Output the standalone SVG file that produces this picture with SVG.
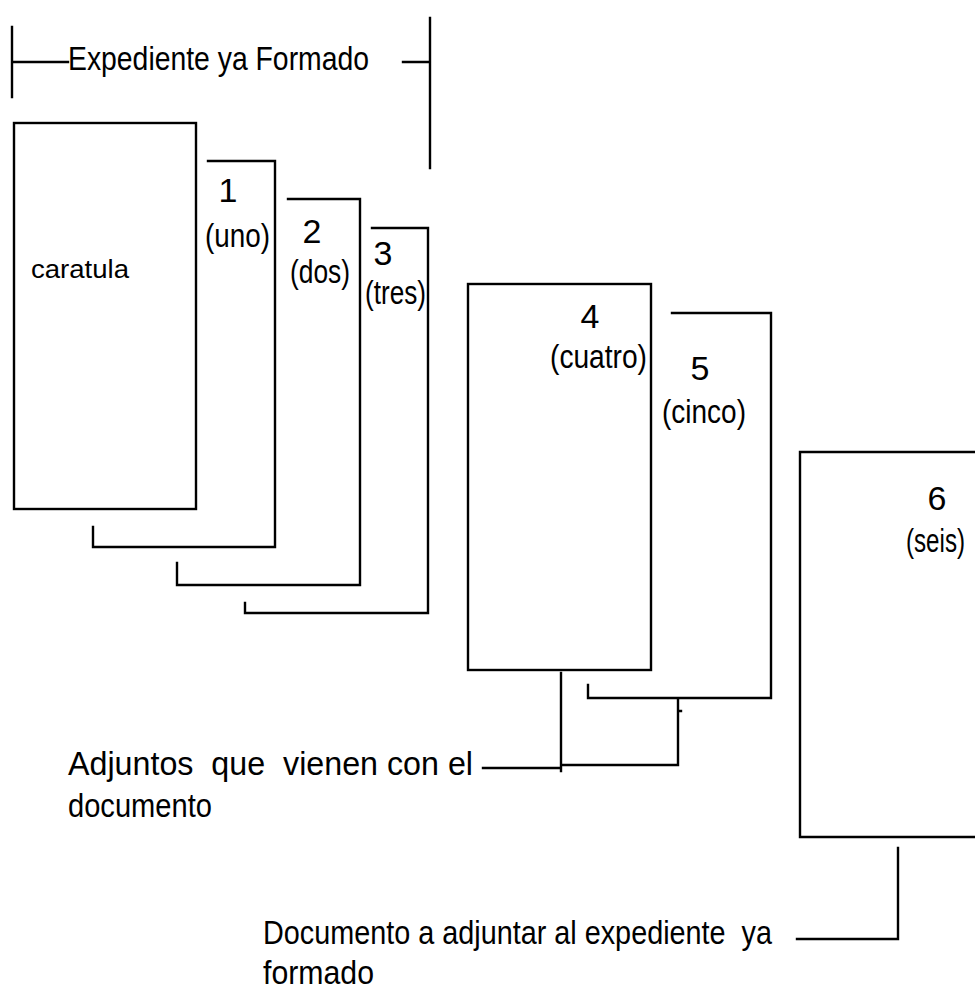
<svg xmlns="http://www.w3.org/2000/svg" width="975" height="992" viewBox="0 0 975 992">
<style>
.ln{fill:none;stroke:#000;stroke-width:2.4;stroke-linecap:square}
.t{font-family:"Liberation Sans",Arial,sans-serif;font-size:34px;fill:#000}
.s{font-family:"Liberation Sans",Arial,sans-serif;font-size:26px;fill:#000}
.m{text-anchor:middle}
</style>
<rect width="975" height="992" fill="#fff"/>
<g id="title">
<path class="ln" d="M12 27 V97 M12 62 H68 M403 62 H430 M430 18 V168"/>
<text class="t" x="68" y="70" textLength="301" lengthAdjust="spacingAndGlyphs">Expediente ya Formado</text>
</g>
<g id="caratula">
<rect class="ln" x="14" y="123" width="182" height="386"/>
<text class="s" x="31" y="278" textLength="98" lengthAdjust="spacingAndGlyphs">caratula</text>
</g>
<g id="doc1">
<path class="ln" d="M208 161 H275 V547 H93 V527"/>
<text class="t m" x="228" y="202">1</text>
<text class="t" x="205" y="247" textLength="65" lengthAdjust="spacingAndGlyphs">(uno)</text>
</g>
<g id="doc2">
<path class="ln" d="M288 199 H360 V585 H177 V563"/>
<text class="t m" x="312" y="243">2</text>
<text class="t" x="290" y="283" textLength="60" lengthAdjust="spacingAndGlyphs">(dos)</text>
</g>
<g id="doc3">
<path class="ln" d="M372 228 H428 V613 H245 V603"/>
<text class="t m" x="383" y="265">3</text>
<text class="t" x="365" y="304" textLength="61" lengthAdjust="spacingAndGlyphs">(tres)</text>
</g>
<g id="doc4">
<rect class="ln" x="468" y="284" width="183" height="386"/>
<text class="t m" x="590" y="328">4</text>
<text class="t" x="550" y="368" textLength="97" lengthAdjust="spacingAndGlyphs">(cuatro)</text>
</g>
<g id="doc5">
<path class="ln" d="M672 313 H771 V698 H588 V685"/>
<text class="t m" x="700" y="380">5</text>
<text class="t" x="662" y="423" textLength="84" lengthAdjust="spacingAndGlyphs">(cinco)</text>
</g>
<g id="doc6">
<path class="ln" d="M980 452 H800 V837 H980"/>
<text class="t m" x="937" y="510">6</text>
<text class="t" x="906" y="552" textLength="59" lengthAdjust="spacingAndGlyphs">(seis)</text>
</g>
<g id="label-adjuntos">
<text class="t" x="68" y="775" textLength="405" lengthAdjust="spacingAndGlyphs" xml:space="preserve">Adjuntos  que  vienen con el</text>
<text class="t" x="68" y="817" textLength="144" lengthAdjust="spacingAndGlyphs">documento</text>
</g>
<g id="label-documento">
<text class="t" x="263" y="944" textLength="509" lengthAdjust="spacingAndGlyphs" xml:space="preserve">Documento a adjuntar al expediente  ya</text>
<text class="t" x="263" y="984" textLength="111" lengthAdjust="spacingAndGlyphs">formado</text>
</g>
<g id="connectors">
<path class="ln" d="M483 768 H561 M561 673 V771 M561 765 H678 V699 M678 711 H681"/>
<path class="ln" d="M797 939 H898 V848"/>
</g>
</svg>
